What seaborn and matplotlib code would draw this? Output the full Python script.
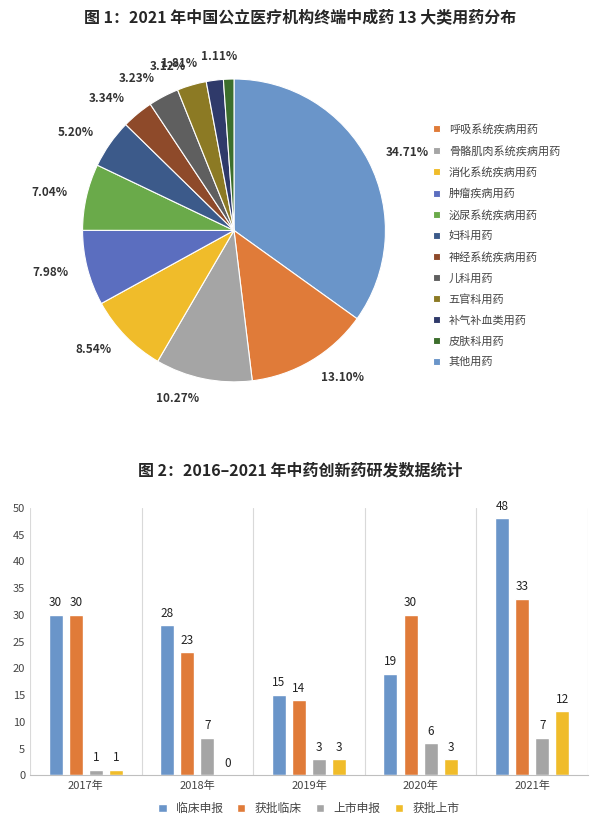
import numpy as np
import pandas as pd
import seaborn as sb
from matplotlib import pyplot as plt

sb.set_style("white")
plt.rcParams["font.family"] = ["Noto Sans CJK SC", "DejaVu Sans"]

# pie data
pie_labels = ["其他用药", "呼吸系统疾病用药", "骨骼肌肉系统疾病用药", "消化系统疾病用药",
              "肿瘤疾病用药", "泌尿系统疾病用药", "妇科用药", "神经系统疾病用药",
              "儿科用药", "五官科用药", "补气补血类用药", "皮肤科用药"]
pie_values = [34.71, 13.10, 10.27, 8.54, 7.98, 7.04, 5.20, 3.34, 3.23, 3.12, 1.81, 1.11]
pie_colors = ["#6a95c9", "#e07b39", "#a5a5a5", "#f0bc2a", "#5b6ebf", "#6aaa4a",
              "#3c5a8a", "#8e4a2a", "#5f5f5f", "#8c7a24", "#2f3a6a", "#3c6e2c"]

# bar data
years = ["2017年", "2018年", "2019年", "2020年", "2021年"]
series = ["临床申报", "获批临床", "上市申报", "获批上市"]
clinical_apply = [30, 28, 15, 19, 48]
clinical_ok = [30, 23, 14, 30, 33]
market_apply = [1, 7, 3, 6, 7]
market_ok = [1, 0, 3, 3, 12]
bar_colors = ["#6a95c9", "#e07b39", "#a5a5a5", "#f0bc2a"]

fig = plt.figure(figsize=(6, 8.23), dpi=100)

# ---- pie ----
fig.text(0.5, 0.978, "图 1：2021 年中国公立医疗机构终端中成药 13 大类用药分布",
         ha="center", va="center", fontsize=11.5, fontweight="bold")
ax1 = fig.add_axes([0.01, 0.49, 0.76, 0.46])
wedges, texts = ax1.pie(pie_values, colors=pie_colors, startangle=90, counterclock=False,
                        labels=["%.2f%%" % v for v in pie_values], labeldistance=1.13,
                        wedgeprops=dict(edgecolor="white", linewidth=0.8),
                        textprops=dict(fontsize=8.5, fontweight="bold", color="#333333"))
# small slices: spread labels apart
x, y = texts[10].get_position()
texts[10].set_position((x - 0.1, y - 0.02))
x, y = texts[11].get_position()
texts[11].set_position((x + 0.06, y + 0.02))
ax1.set_aspect("equal")
order = list(range(1, 12)) + [0]
ax1.legend([wedges[i] for i in order], [pie_labels[i] for i in order],
           loc="center left", bbox_to_anchor=(1.0, 0.46), frameon=False,
           fontsize=8, handlelength=0.6, handleheight=0.6, labelspacing=0.95,
           labelcolor="#444444")

# ---- bar ----
fig.text(0.5, 0.428, "图 2：2016–2021 年中药创新药研发数据统计",
         ha="center", va="center", fontsize=11.5, fontweight="bold")
ax2 = fig.add_axes([0.05, 0.058, 0.93, 0.325])
df = pd.DataFrame({
    "year": years * 4,
    "series": np.repeat(series, len(years)),
    "value": clinical_apply + clinical_ok + market_apply + market_ok,
})
sb.barplot(data=df, x="year", y="value", hue="series", palette=bar_colors,
           saturation=1, width=0.72, gap=0.3, ax=ax2)
for c in ax2.containers:
    ax2.bar_label(c, fontsize=8.5, padding=4, color="#222222")
ax2.set_ylim(0, 50)
ax2.set_yticks(range(0, 51, 5))
ax2.set_xlim(-0.5, 4.5)
for x in np.arange(-0.5, 5, 1):
    ax2.axvline(x, color="#d9d9d9", lw=0.8, zorder=0)
for s in ["top", "right", "left"]:
    ax2.spines[s].set_visible(False)
ax2.spines["bottom"].set_color("#bfbfbf")
ax2.tick_params(labelsize=8, colors="#444444", length=0)
ax2.set_xlabel("")
ax2.set_ylabel("")
ax2.legend(loc="upper center", bbox_to_anchor=(0.5, -0.06), ncol=4, frameon=False,
           fontsize=8.5, handlelength=0.7, handleheight=0.7, columnspacing=1.2,
           labelcolor="#444444")

plt.savefig("out.png")
